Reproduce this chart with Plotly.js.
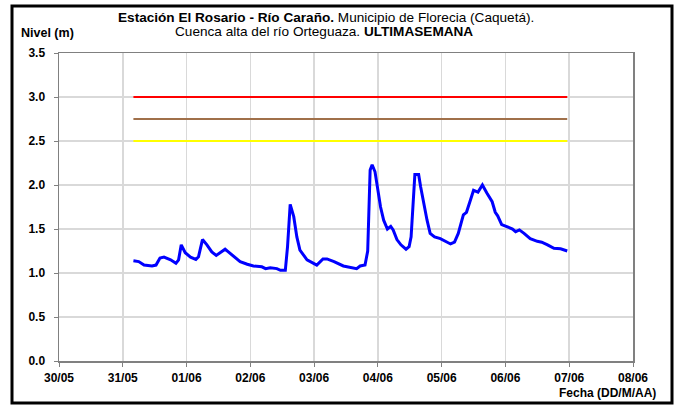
<!DOCTYPE html>
<html>
<head>
<meta charset="utf-8">
<script src="https://cdn.plot.ly/plotly-3.0.1.min.js"></script>
<style>
html,body{margin:0;padding:0;background:#fff;}
#chart{width:679px;height:409px;}
</style>
</head>
<body>
<div id="chart"></div>
<script>
// Water level series (Nivel, m)
const times = [
  '2010-05-31 04:00','2010-05-31 06:00','2010-05-31 08:00','2010-05-31 11:00','2010-05-31 12:30',
  '2010-05-31 14:00','2010-05-31 15:30','2010-05-31 18:00','2010-05-31 20:00','2010-05-31 21:00',
  '2010-05-31 22:00','2010-05-31 23:30','2010-06-01 01:30','2010-06-01 03:30','2010-06-01 04:30',
  '2010-06-01 06:00','2010-06-01 07:40','2010-06-01 09:30','2010-06-01 11:10','2010-06-01 13:00',
  '2010-06-01 14:30','2010-06-01 15:30','2010-06-01 17:45','2010-06-01 20:10','2010-06-01 22:50',
  '2010-06-02 01:10','2010-06-02 04:20','2010-06-02 05:45','2010-06-02 07:30','2010-06-02 10:00',
  '2010-06-02 11:20','2010-06-02 13:10','2010-06-02 14:00','2010-06-02 15:00','2010-06-02 16:20',
  '2010-06-02 17:30','2010-06-02 18:40','2010-06-02 21:20','2010-06-03 01:00','2010-06-03 03:20',
  '2010-06-03 04:50','2010-06-03 07:30','2010-06-03 11:00','2010-06-03 13:40','2010-06-03 16:00',
  '2010-06-03 17:20','2010-06-03 19:10','2010-06-03 20:10','2010-06-03 21:05','2010-06-03 21:50',
  '2010-06-03 22:55','2010-06-04 01:00','2010-06-04 02:10','2010-06-04 03:35','2010-06-04 04:50',
  '2010-06-04 05:45','2010-06-04 07:10','2010-06-04 08:40','2010-06-04 10:35','2010-06-04 11:45',
  '2010-06-04 12:30','2010-06-04 13:55','2010-06-04 15:20','2010-06-04 16:05','2010-06-04 17:00',
  '2010-06-04 18:30','2010-06-04 19:40','2010-06-04 21:20','2010-06-04 23:30','2010-06-05 01:35',
  '2010-06-05 03:20','2010-06-05 04:50','2010-06-05 06:15','2010-06-05 08:10','2010-06-05 09:20',
  '2010-06-05 10:50','2010-06-05 12:00','2010-06-05 13:40','2010-06-05 15:20','2010-06-05 17:00',
  '2010-06-05 19:00','2010-06-05 20:10','2010-06-05 21:05','2010-06-05 22:35','2010-06-06 00:45',
  '2010-06-06 02:40','2010-06-06 03:50','2010-06-06 05:15','2010-06-06 07:00','2010-06-06 09:20',
  '2010-06-06 12:00','2010-06-06 13:40','2010-06-06 15:50','2010-06-06 18:15','2010-06-06 20:45',
  '2010-06-06 23:15'
];
const nivel = [
  1.14,1.13,1.09,1.08,1.09,
  1.17,1.18,1.15,1.11,1.15,
  1.32,1.23,1.18,1.155,1.185,
  1.38,1.32,1.24,1.20,1.24,
  1.27,1.245,1.185,1.13,1.10,
  1.08,1.07,1.05,1.06,1.05,
  1.03,1.03,1.30,1.78,1.64,
  1.41,1.26,1.15,1.09,1.16,
  1.16,1.13,1.08,1.06,1.05,
  1.08,1.09,1.25,2.17,2.23,
  2.15,1.75,1.60,1.50,1.53,
  1.49,1.38,1.32,1.27,1.30,
  1.41,2.12,2.12,1.98,1.83,
  1.60,1.45,1.41,1.39,1.36,
  1.33,1.35,1.45,1.66,1.69,
  1.83,1.94,1.92,2.00,1.91,
  1.81,1.69,1.65,1.55,1.52,
  1.50,1.47,1.49,1.45,1.39,
  1.36,1.35,1.32,1.28,1.275,
  1.25
];
// Alert thresholds (m)
const thresholdLevels = [3.0, 2.75, 2.5];
const thresholdColors = ['#ff0000', '#a0704a', '#ffff00'];
// Axis settings
const xRange = ['2010-05-30', '2010-06-08'];
const yRange = [0, 3.5];

const titleLine1 = '<b>Estación El Rosario - Río Caraño.</b> Municipio de Florecia (Caquetá).';
const titleLine2 = 'Cuenca alta del río Orteguaza. <b>ULTIMASEMANA</b>';
const yTitle = '<b>Nivel (m)</b>';
const xTitle = '<b>Fecha (DD/M/AA)</b>';

const FONT = 'Liberation Sans, Arial, sans-serif';

const traces = thresholdLevels.map((lv, i) => ({
  x: [times[0], times[times.length - 1]],
  y: [lv, lv],
  mode: 'lines',
  line: {color: thresholdColors[i], width: 2},
  hoverinfo: 'skip',
  showlegend: false
}));
traces.push({
  x: times,
  y: nivel,
  mode: 'lines',
  line: {color: '#0000ff', width: 3, shape: 'linear'},
  showlegend: false
});

const L = 59, R = 633, T = 53, B = 361, W = 679, H = 409;
const px = v => (v - L) / (R - L);
const py = v => (B - v) / (B - T);

const tickFont = {family: FONT, size: 12, color: '#000', weight: 'bold'};

const layout = {
  width: W, height: H,
  margin: {l: L, r: W - R, t: T, b: H - B, pad: 0},
  paper_bgcolor: '#ffffff',
  plot_bgcolor: '#ffffff',
  showlegend: false,
  font: {family: FONT, size: 12, color: '#000'},
  xaxis: {
    type: 'date',
    range: xRange,
    tick0: xRange[0],
    dtick: 86400000,
    tickformat: '%d/%m',
    ticks: 'outside', ticklen: 4, tickcolor: '#808080', tickwidth: 1,
    showgrid: true, gridcolor: '#d9d9d9', gridwidth: 1.5,
    showline: true, linecolor: '#808080', linewidth: 1.5, mirror: true,
    zeroline: false,
    tickfont: tickFont,
    ticklabelstandoff: 1,
    fixedrange: true
  },
  yaxis: {
    range: yRange,
    dtick: 0.5,
    tickformat: '.1f',
    ticks: 'outside', ticklen: 4, tickcolor: '#808080', tickwidth: 1,
    showgrid: true, gridcolor: '#d9d9d9', gridwidth: 1.5,
    showline: true, linecolor: '#808080', linewidth: 1.5, mirror: true,
    zeroline: false,
    tickfont: tickFont,
    ticklabelstandoff: 6,
    fixedrange: true
  },
  annotations: [
    {text: titleLine1, xref: 'paper', yref: 'paper', x: px(326), y: py(17),
     xanchor: 'center', yanchor: 'middle', showarrow: false,
     font: {family: FONT, size: 13.6, color: '#000'}},
    {text: titleLine2, xref: 'paper', yref: 'paper', x: px(324), y: py(31),
     xanchor: 'center', yanchor: 'middle', showarrow: false,
     font: {family: FONT, size: 13.6, color: '#000'}},
    {text: yTitle, xref: 'paper', yref: 'paper', x: px(19), y: py(33),
     xanchor: 'left', yanchor: 'middle', showarrow: false,
     font: {family: FONT, size: 12.5, color: '#000'}},
    {text: xTitle, xref: 'paper', yref: 'paper', x: px(658), y: py(393),
     xanchor: 'right', yanchor: 'middle', showarrow: false,
     font: {family: FONT, size: 12, color: '#000'}}
  ],
  shapes: [
    {type: 'rect', xref: 'paper', yref: 'paper', x0: px(12), x1: px(672), y0: py(403), y1: py(6),
     line: {color: '#000', width: 3}, fillcolor: 'rgba(0,0,0,0)', layer: 'above'}
  ]
};

Plotly.newPlot('chart', traces, layout, {displayModeBar: false, staticPlot: true});
</script>
</body>
</html>
